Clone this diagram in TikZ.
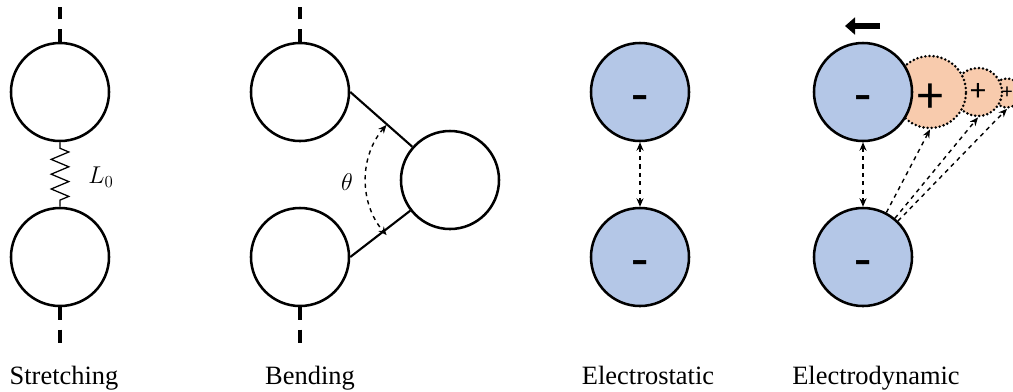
\documentclass[tikz,border=0pt]{standalone}
\usepackage{fontspec}
\setmainfont{Liberation Serif}
\newfontfamily\chargefont{Carlito}
\usepackage{tikz}
\usetikzlibrary{arrows.meta, positioning, decorations.pathmorphing}
\definecolor{ionblue}{HTML}{B4C7E7}
\definecolor{ionorange}{HTML}{F8CBAD}
\tikzset{%
	bead/.style={
		circle,
		draw,
		line width=1.8pt,
		minimum size=2.45cm,
		inner sep=0pt
	},
	anion/.style={
		bead,
		fill=ionblue,
		text height=31pt,
		text depth=0pt,
		font=\chargefont\fontsize{40}{40}\selectfont
	},
	cation/.style={
		circle,
		draw,
		dash pattern=on 0pt off 2.9pt,
		line cap=round,
		line width=2pt,
		fill=ionorange,
		inner sep=0pt,
		font=\chargefont
	},
	bond end/.style={line width=2.2pt, dash pattern=on 0.33cm off 0.23cm on 0.33cm off 3cm},
	link/.style={line width=1.5pt},
	tip/.tip={Stealth[length=6pt,width=5pt]},
	force/.style={dashed, line width=1pt, -tip},
	push/.style={line width=4.3pt, -{Triangle[length=0.25cm,width=0.42cm]}},
	caption/.style={anchor=base, font=\fontsize{18.8}{22}\selectfont},
}
\begin{document}
\begin{tikzpicture}[x=0.025cm, y=-0.025cm]
			\useasboundingbox (0,0) rectangle (1013,391);
			
			% Draw the stretching pair
			\node[bead] (s1) at (60,92) {};
			\node[bead] (s2) at (60,257) {};
			\coordinate (s1end) at (60,7);
			\coordinate (s2end) at (60,344);
			\draw[bond end] (s1.north) -- (s1end);
			\draw[bond end] (s2.south) -- (s2end);
			\draw[line width=0.9pt, decorate, decoration={zigzag, segment length=0.37cm, amplitude=0.22cm, pre length=0.15cm, post length=0.12cm}] (s1.south) -- (s2.north);
			\node (len) at (101,177) {\fontsize{18}{20}\selectfont$L_0$};
			\node[caption] (cap1) at (64,384) {Stretching};
			
			% Draw the bending triple
			\node[bead] (b1) at (300,92) {};
			\node[bead] (b2) at (300,257) {};
			\node[bead] (b3) at (450,180) {};
			\coordinate (b1end) at (300,7);
			\coordinate (b2end) at (300,344);
			\draw[bond end] (b1.north) -- (b1end);
			\draw[bond end] (b2.south) -- (b2end);
			\draw[link] (b1.east) -- (b3);
			\draw[link] (b2.east) -- (b3);
			\draw[force, tip-tip] ([shift={(139:2.1cm)}]b3.center) arc[start angle=139, end angle=221, radius=2.1cm];
			\node (ang) at (347,182) {\fontsize{18}{20}\selectfont$\theta$};
			\node[caption] (cap2) at (310,384) {Bending};
			
			% Draw the electrostatic pair
			\node[anion] (e1) at (640,92) {-};
			\node[anion] (e2) at (640,257) {-};
			\draw[force, tip-tip] (e1) -- (e2);
			\node[caption] (cap3) at (648,384) {Electrostatic};
			
			% Draw the induced charges
			\node[cation, minimum size=0.72cm] (q3) at (1007,93) {\fontsize{15}{15}\selectfont+};
			\node[cation, minimum size=1.2cm] (q2) at (978,92) {\fontsize{22}{22}\selectfont+};
			\node[cation, minimum size=1.8cm, text height=28.8pt, text depth=0pt] (q1) at (930,92) {\fontsize{37}{37}\selectfont+};
			
			% Draw the electrodynamic pair
			\node[anion] (d1) at (863,92) {-};
			\node[anion] (d2) at (863,257) {-};
			\draw[force, tip-tip] (d1) -- (d2);
			\draw[force] (d2) -- (q1.south);
			\draw[force] (d2) -- (q2.south);
			\draw[force] (d2) -- (q3.south);
			\coordinate (pushtail) at (880,26);
			\coordinate (pushhead) at (845,26);
			\draw[push] (pushtail) -- (pushhead);
			\node[caption] (cap4) at (876,384) {Electrodynamic};
		\end{tikzpicture}
\end{document}
